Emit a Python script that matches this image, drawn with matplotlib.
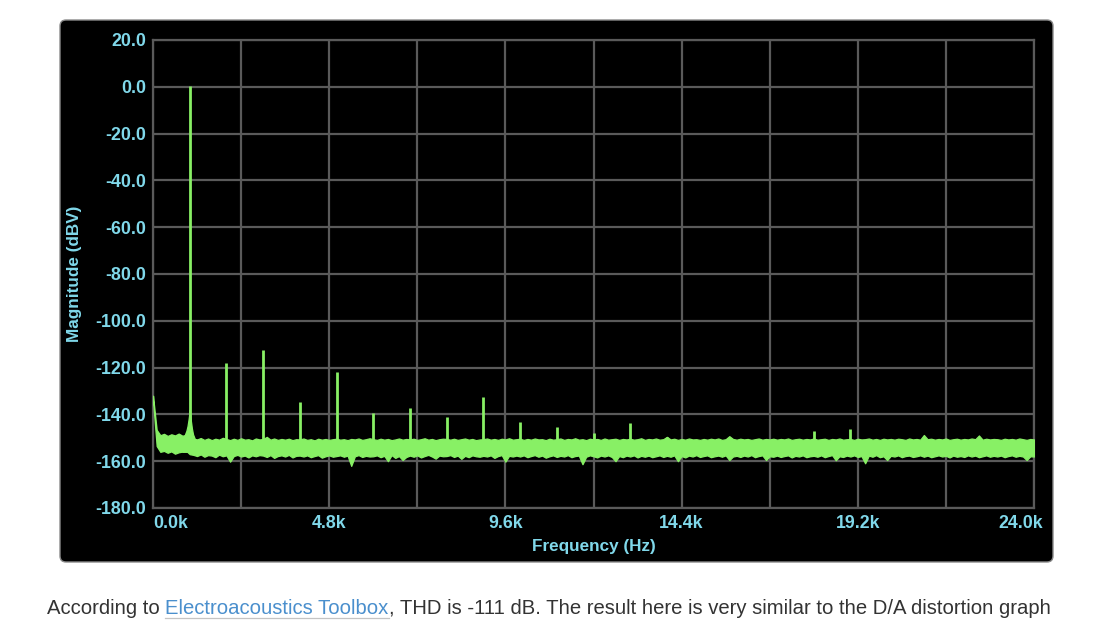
import numpy as np
import matplotlib
matplotlib.use("Agg")
import matplotlib.pyplot as plt
from matplotlib.patches import FancyBboxPatch
from matplotlib.lines import Line2D
from matplotlib.transforms import ScaledTranslation

# ---------------- data ----------------
x_ticks_k = [0.0, 2.4, 4.8, 7.2, 9.6, 12.0, 14.4, 16.8, 19.2, 21.6, 24.0]
x_tick_labels = ["0.0k", "", "4.8k", "", "9.6k", "", "14.4k", "", "19.2k", "", "24.0k"]
y_ticks = [20, 0, -20, -40, -60, -80, -100, -120, -140, -160, -180]
y_tick_labels = ["20.0", "0.0", "-20.0", "-40.0", "-60.0", "-80.0", "-100.0",
                 "-120.0", "-140.0", "-160.0", "-180.0"]

# harmonic / tone peaks (kHz, dBV)
harm_freq_k = [1, 2, 3, 4, 5, 6, 7, 8, 9, 10, 11, 12, 13, 14, 18, 19]
harm_db = [0.5, -118.0, -112.3, -134.7, -121.9, -139.5, -137.3, -141.2, -132.6,
           -143.1, -145.5, -148.1, -143.8, -149.5, -147.0, -146.2]

# skirt of the fundamental
skirt_freq_k = [0.80, 0.86, 0.91, 0.94, 0.97, 0.99, 1.00, 1.01, 1.03, 1.06, 1.09, 1.14, 1.20]
skirt_db = [-150.0, -149.0, -147.0, -145.0, -142.0, -139.5, -138.0, -139.5, -142.5,
            -146.0, -148.5, -150.5, -151.0]

# noise floor envelope, one value per 0.1 kHz from 0.0 to 24.0 kHz
floor_upper_db = [
    -132.0, -146.6, -148.9, -148.3, -149.2, -148.5, -149.0, -148.2, -149.1, -148.8,
    -150.0, -150.4, -150.7, -150.1, -150.9, -150.3, -151.0, -150.4, -150.8, -150.0,
    -150.5, -151.0, -150.4, -150.9, -150.2, -150.8, -150.6, -151.1, -150.3, -150.7,
    -150.5, -149.6, -150.8, -150.3, -150.9, -150.5, -150.8, -150.4, -151.0, -150.6,
    -150.7, -150.3, -150.9, -150.6, -151.1, -150.4, -150.8, -150.5, -150.9, -150.6,
    -150.4, -150.8, -150.6, -151.0, -150.5, -150.7, -150.3, -150.9, -150.6, -150.2,
    -150.6, -150.9, -150.4, -150.8, -150.5, -151.0, -150.7, -150.3, -150.8, -150.5,
    -150.7, -150.4, -150.9, -150.6, -150.2, -150.8, -150.5, -151.0, -150.6, -150.4,
    -150.5, -150.8, -150.4, -150.9, -150.6, -150.3, -150.8, -150.5, -151.0, -150.7,
    -150.6, -150.3, -150.8, -150.5, -150.9, -150.4, -150.7, -150.2, -150.8, -150.6,
    -150.4, -150.9, -150.5, -150.8, -150.3, -150.7, -150.6, -151.0, -150.4, -150.8,
    -150.6, -150.3, -150.9, -150.5, -150.7, -150.2, -150.8, -150.6, -151.0, -150.4,
    -150.7, -150.5, -150.9, -150.3, -150.8, -150.6, -150.4, -150.9, -150.5, -150.7,
    -150.4, -150.8, -150.6, -150.2, -150.9, -150.5, -150.7, -150.3, -150.8, -150.6,
    -149.6, -150.7, -150.4, -150.9, -150.5, -150.8, -150.3, -150.7, -150.6, -150.9,
    -150.5, -150.8, -150.4, -150.7, -150.3, -150.9, -150.6, -149.3, -150.5, -150.8,
    -150.4, -150.7, -150.5, -150.9, -150.6, -150.3, -150.8, -150.5, -150.7, -150.4,
    -150.8, -150.5, -150.7, -150.3, -150.9, -150.6, -150.4, -150.8, -150.5, -150.7,
    -150.3, -150.8, -150.6, -150.4, -150.9, -150.5, -150.7, -150.3, -150.8, -150.6,
    -150.5, -150.9, -150.4, -150.7, -150.6, -150.3, -150.8, -150.5, -150.9, -150.4,
    -150.7, -150.5, -150.8, -150.4, -150.6, -150.9, -150.3, -150.7, -150.5, -150.8,
    -148.8, -150.6, -150.4, -150.8, -150.5, -150.7, -150.3, -150.9, -150.6, -150.4,
    -150.8, -150.5, -150.7, -150.3, -150.6, -149.0, -150.8, -150.4, -150.7, -150.5,
    -150.6, -150.9, -150.4, -150.7, -150.5, -150.8, -150.3, -150.6, -150.9, -150.5,
    -150.7,
]
floor_lower_db = [
    -134.0, -153.5, -156.0, -155.6, -156.4, -155.8, -156.8, -156.2, -155.9, -155.5,
    -157.0, -157.3, -157.8, -157.1, -158.1, -157.4, -157.6, -158.3, -157.2, -157.9,
    -157.5, -160.2, -157.8, -157.3, -158.0, -157.6, -158.4, -157.5, -157.9, -157.4,
    -157.6, -158.2, -157.4, -158.6, -157.8, -157.5, -158.0, -157.3, -158.4, -157.7,
    -157.6, -158.0, -157.5, -158.3, -157.8, -157.4, -158.5, -157.9, -157.5, -158.1,
    -157.8, -157.5, -158.1, -157.6, -162.0, -157.9, -157.4, -158.2, -157.7, -158.0,
    -157.9, -157.5, -158.3, -157.7, -160.0, -157.4, -158.6, -157.8, -159.5, -158.2,
    -157.6, -158.1, -157.5, -158.4, -157.8, -157.3, -158.0, -158.9, -157.6, -157.9,
    -157.8, -157.4, -158.2, -157.6, -159.0, -157.7, -158.3, -157.5, -157.9, -158.1,
    -157.7, -158.0, -157.5, -158.6, -157.8, -157.4, -160.2, -157.7, -158.0, -157.6,
    -158.0, -157.5, -158.3, -157.8, -157.4, -158.1, -157.6, -158.5, -157.9, -157.5,
    -158.2, -157.7, -158.0, -157.4, -158.3, -157.8, -157.6, -161.3, -158.1, -157.5,
    -157.9, -158.4, -157.6, -158.0, -157.5, -158.2, -160.0, -157.8, -158.3, -157.6,
    -158.0, -157.5, -158.4, -157.7, -158.1, -157.6, -158.3, -157.9, -157.5, -158.2,
    -157.7, -158.1, -157.5, -160.0, -157.8, -158.4, -157.6, -158.0, -157.4, -158.2,
    -157.8, -157.5, -158.3, -157.9, -157.6, -158.1, -157.5, -159.5, -158.0, -157.7,
    -158.2, -157.6, -158.0, -157.4, -158.3, -157.8, -157.5, -159.5, -157.9, -158.1,
    -157.6, -158.2, -157.8, -157.5, -158.4, -157.7, -158.0, -157.5, -158.3, -157.9,
    -157.7, -158.1, -157.5, -158.3, -157.8, -157.4, -159.6, -157.9, -158.2, -157.6,
    -158.0, -157.5, -158.2, -157.8, -160.9, -157.6, -158.1, -157.4, -158.3, -157.9,
    -159.5, -157.7, -158.0, -157.5, -158.3, -157.8, -157.6, -158.2, -157.9, -157.5,
    -158.1, -157.6, -158.3, -157.9, -157.5, -158.0, -157.7, -158.4, -157.6, -158.1,
    -157.8, -158.2, -157.5, -158.0, -157.6, -158.3, -157.9, -157.5, -158.1, -157.7,
    -158.0, -157.6, -158.3, -157.8, -157.5, -158.1, -157.7, -158.0, -159.5, -157.9,
    -158.0,
]
floor_freq_k = np.linspace(0.0, 24.0, len(floor_upper_db))

x_label = "Frequency (Hz)"
y_label = "Magnitude (dBV)"
caption_parts = [("According to ", "#333333"),
                 ("Electroacoustics Toolbox", "#4a8fcd"),
                 (", THD is -111 dB. The result here is very similar to the D/A distortion graph", "#333333")]

# ---------------- styling ----------------
GREEN = "#88f065"
CYAN = "#80d8ea"
GRID = "#5a5a5a"
FONT = "Liberation Sans"
TICK_FS = 12.8
LABEL_FS = 12.3

fig = plt.figure(figsize=(11.0, 6.28), dpi=100, facecolor="white")

# black rounded panel (behind the axes)
panel = FancyBboxPatch((0.60, 0.66), 9.93, 5.42,
                       boxstyle="round,pad=0,rounding_size=0.06",
                       transform=fig.dpi_scale_trans, facecolor="black",
                       edgecolor="#8a8a8a", linewidth=1.0, zorder=-5)
fig.patches.append(panel)

ax = fig.add_axes([153 / 1100, 120 / 628, 881 / 1100, 468 / 628])
ax.set_zorder(2)
ax.set_facecolor("black")
ax.set_xlim(0, 24.0)
ax.set_ylim(-180, 20)

ax.set_xticks(x_ticks_k)
ax.set_xticklabels(x_tick_labels)
ax.set_yticks(y_ticks)
ax.set_yticklabels(y_tick_labels)
ax.tick_params(axis="both", length=0, colors=CYAN, labelsize=TICK_FS)
ax.tick_params(axis="x", pad=5)
ax.tick_params(axis="y", pad=5)
for lab in ax.get_xticklabels() + ax.get_yticklabels():
    lab.set_fontfamily(FONT)
    lab.set_fontweight("bold")
    lab.set_color(CYAN)

ax.grid(True, color=GRID, linewidth=1.6)
ax.set_axisbelow(True)
for sp in ax.spines.values():
    sp.set_color(GRID)
    sp.set_linewidth(1.6)

# noise floor band
ax.fill_between(floor_freq_k, floor_lower_db, floor_upper_db, color=GREEN,
                linewidth=0.9, edgecolor=GREEN, zorder=3)
# fundamental skirt
ax.fill_between(skirt_freq_k, [-156.0] * len(skirt_freq_k), skirt_db, color=GREEN,
                linewidth=0.9, edgecolor=GREEN, zorder=3)
# tone spikes
ax.vlines(harm_freq_k, -152.0, harm_db, colors=GREEN, linewidth=2.0, zorder=4)

ax.set_xlabel(x_label, fontsize=LABEL_FS, fontweight="bold", color=CYAN, family=FONT)
ax.set_ylabel(y_label, fontsize=LABEL_FS, fontweight="bold", color=CYAN, family=FONT)
ax.xaxis.set_label_coords(0.5, (508 - 539) / 468)
ax.yaxis.set_label_coords((82 - 153) / 881, 0.5)

# adjust end labels as in reference
xt = ax.get_xticklabels()
xt[0].set_horizontalalignment("left")
xt[-1].set_transform(xt[-1].get_transform() + ScaledTranslation(-0.13, 0, fig.dpi_scale_trans))

# caption with link
renderer = fig.canvas.get_renderer()
x_px = 47.0
y_fig = (628 - 613.5) / 628
for txt, col in caption_parts:
    t = fig.text(x_px / 1100, y_fig, txt, color=col, fontsize=14.6, family=FONT,
                 va="baseline", ha="left")
    bb = t.get_window_extent(renderer)
    if col != "#333333":
        uy = (628 - 617.5) / 628
        fig.add_artist(Line2D([bb.x0 / 1100, bb.x1 / 1100], [uy, uy],
                              transform=fig.transFigure, color="#c4c4c4", linewidth=0.9))
    x_px = bb.x1

fig.savefig("out.png", dpi=100, facecolor="white")
